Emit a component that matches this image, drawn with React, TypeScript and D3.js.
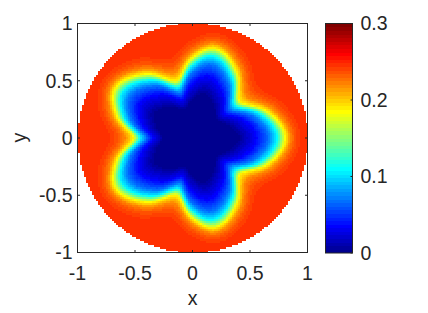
import React, { useMemo } from 'react';
import * as d3 from 'd3';

// ---- data ----
const xTicks = [-1, -0.5, 0, 0.5, 1];
const yTicks = [-1, -0.5, 0, 0.5, 1];
const cbTicks = [0, 0.1, 0.2, 0.3];
const colorLimits = [0, 0.3];

// contour values (field levels) and their radii at tips / flanks / notches of the star
const contourLevels = [0.004, 0.035, 0.07, 0.108, 0.185, 0.22, 0.237, 0.246];
const tipRadii = [0.4, 0.55, 0.66, 0.73, 0.8, 0.845, 0.89, 0.95];
const flankRadii = [0.33, 0.47, 0.565, 0.625, 0.69, 0.745, 0.8, 0.87];
const notchRadii = [0.26, 0.35, 0.41, 0.46, 0.515, 0.59, 0.66, 0.74];

// polar angles (deg) where the star outline was read, and what is there
const sampleAngles = [0, 19, 38, 57, 76, 91, 106, 126.5, 147, 163.5, 180, 196.5, 213, 233.5, 254, 269, 284, 303, 322, 341, 360];
const sampleKinds = ['tip', 'flank', 'notch', 'flank', 'tip', 'flank', 'notch', 'flank', 'tip', 'flank', 'notch', 'flank', 'tip', 'flank', 'notch', 'flank', 'tip', 'flank', 'notch', 'flank', 'tip'];

const gridCells = 115;

// ---- MATLAB jet colormap ----
function jet(m: number): number[][] {
  const n = Math.ceil(m / 4);
  const u: number[] = [];
  for (let i = 1; i <= n; i++) u.push(i / n);
  for (let i = 1; i < n; i++) u.push(1);
  for (let i = n; i >= 1; i--) u.push(i / n);
  const gOff = Math.ceil(n / 2) - (m % 4 === 1 ? 1 : 0);
  const J = Array.from({ length: m }, () => [0, 0, 0]);
  for (let k = 0; k < u.length; k++) {
    const g = gOff + k + 1;
    const r = g + n;
    const b = g - n;
    if (r >= 1 && r <= m) J[r - 1][0] = u[k];
    if (g >= 1 && g <= m) J[g - 1][1] = u[k];
    if (b >= 1 && b <= m) J[b - 1][2] = u[k];
  }
  return J;
}
const JET = jet(64).map(c => d3.rgb(c[0] * 255, c[1] * 255, c[2] * 255).formatHex());

function colorIndex(v: number) {
  const t = (v - colorLimits[0]) / (colorLimits[1] - colorLimits[0]);
  return Math.max(0, Math.min(63, Math.floor(t * 64)));
}

function radiiFor(kind: string) {
  return kind === 'tip' ? tipRadii : kind === 'notch' ? notchRadii : flankRadii;
}

// level radius at angle via cubic Hermite through the samples
function levelRadius(level: number, theta: number) {
  const n = sampleAngles.length - 1; // last equals first (periodic)
  let i = 0;
  while (i < n - 1 && theta >= sampleAngles[i + 1]) i++;
  const val = (k: number) => radiiFor(sampleKinds[((k % n) + n) % n])[level];
  const ang = (k: number) => {
    const kk = ((k % n) + n) % n;
    return sampleAngles[kk] + Math.floor(k / n) * 360;
  };
  const tangent = (k: number) => (val(k + 1) - val(k - 1)) / (ang(k + 1) - ang(k - 1));
  const h = sampleAngles[i + 1] - sampleAngles[i];
  const t = (theta - sampleAngles[i]) / h;
  const t2 = t * t, t3 = t2 * t;
  return (2 * t3 - 3 * t2 + 1) * val(i) + (t3 - 2 * t2 + t) * h * tangent(i) +
    (-2 * t3 + 3 * t2) * val(i + 1) + (t3 - t2) * h * tangent(i + 1);
}

function fieldValue(x: number, y: number) {
  const r = Math.hypot(x, y);
  let th = (Math.atan2(y, x) * 180) / Math.PI;
  if (th < 0) th += 360;
  const R = contourLevels.map((_, l) => levelRadius(l, th));
  if (r <= R[0]) return 0;
  for (let l = 0; l < R.length - 1; l++) {
    if (r <= R[l + 1]) {
      const f = (r - R[l]) / (R[l + 1] - R[l]);
      return contourLevels[l] + f * (contourLevels[l + 1] - contourLevels[l]);
    }
  }
  return contourLevels[contourLevels.length - 1];
}

const AX = '#262626';
const FONT = '"Liberation Sans", Arial, Helvetica, sans-serif';
const FS = 19.5;

export default function App() {
  const W = 428, H = 313;
  const xScale = d3.scaleLinear().domain([-1, 1]).range([77.5, 307.5]);
  const yScale = d3.scaleLinear().domain([-1, 1]).range([252.5, 23.5]);
  const cbScale = d3.scaleLinear().domain(colorLimits).range([253, 23.5]);
  const cbX0 = 325.5, cbX1 = 352.5;

  const cells = useMemo(() => {
    const out: { x: number; y: number; w: number; h: number; c: string }[] = [];
    const step = 2 / gridCells;
    for (let j = 0; j < gridCells; j++) {
      const yTop = 1 - j * step;
      const yc = yTop - step / 2;
      let runStart = -1, runColor = -1;
      const flush = (endI: number) => {
        if (runStart >= 0 && runColor >= 0) {
          const x0 = xScale(-1 + runStart * step);
          const x1 = xScale(-1 + endI * step);
          const y0 = yScale(yTop);
          const y1 = yScale(yTop - step);
          out.push({ x: x0, y: y0, w: x1 - x0 + 0.4, h: y1 - y0 + 0.4, c: JET[runColor] });
        }
      };
      for (let i = 0; i < gridCells; i++) {
        const xc = -1 + (i + 0.5) * step;
        let ci = -1;
        if (Math.hypot(xc, yc) <= 1) ci = colorIndex(fieldValue(xc, yc));
        if (ci !== runColor) {
          flush(i);
          runStart = i;
          runColor = ci;
        }
      }
      flush(gridCells);
    }
    return out;
  }, []);

  const cbBands = d3.range(64).map(k => ({
    y0: cbScale(colorLimits[0] + ((k + 1) / 64) * (colorLimits[1] - colorLimits[0])),
    y1: cbScale(colorLimits[0] + (k / 64) * (colorLimits[1] - colorLimits[0])),
    c: JET[k],
  }));

  const tl = 2.5;
  const capHalf = (FS * 0.716) / 2;

  return (
    <div style={{ position: 'absolute', left: 0, top: 0, width: W, height: H, background: '#fff' }}>
      <svg width={W} height={H} style={{ display: 'block' }} fontFamily={FONT}>
        <rect x={0} y={0} width={W} height={H} fill="#fff" />
        <g shapeRendering="crispEdges">
          {cells.map((d, k) => (
            <rect key={k} x={d.x} y={d.y} width={d.w} height={d.h} fill={d.c} />
          ))}
        </g>
        {/* axes box */}
        <rect x={xScale(-1)} y={yScale(1)} width={xScale(1) - xScale(-1)} height={yScale(-1) - yScale(1)}
          fill="none" stroke={AX} strokeWidth={1} />
        {xTicks.map(t => (
          <g key={'x' + t}>
            <line x1={xScale(t)} x2={xScale(t)} y1={yScale(-1)} y2={yScale(-1) - tl} stroke={AX} />
            <line x1={xScale(t)} x2={xScale(t)} y1={yScale(1)} y2={yScale(1) + tl} stroke={AX} />
            <text x={xScale(t)} y={280.3} textAnchor="middle" fontSize={FS} fill={AX}>{String(t)}</text>
          </g>
        ))}
        {yTicks.map(t => (
          <g key={'y' + t}>
            <line x1={xScale(-1)} x2={xScale(-1) + tl} y1={yScale(t)} y2={yScale(t)} stroke={AX} />
            <line x1={xScale(1)} x2={xScale(1) - tl} y1={yScale(t)} y2={yScale(t)} stroke={AX} />
            <text x={72.5} y={yScale(t) + capHalf} textAnchor="end" fontSize={FS} fill={AX}>{String(t)}</text>
          </g>
        ))}
        <text x={192.5} y={305} textAnchor="middle" fontSize={FS} fill={AX}>x</text>
        <text transform={`translate(26,137.5) rotate(-90)`} textAnchor="middle" fontSize={FS} fill={AX}>y</text>

        {/* colorbar */}
        <g shapeRendering="crispEdges">
          {cbBands.map((b, k) => (
            <rect key={k} x={cbX0} y={b.y0} width={cbX1 - cbX0} height={b.y1 - b.y0 + 0.4} fill={b.c} />
          ))}
        </g>
        <rect x={cbX0} y={cbScale(0.3)} width={cbX1 - cbX0} height={cbScale(0) - cbScale(0.3)}
          fill="none" stroke={AX} strokeWidth={1} />
        {cbTicks.map(t => (
          <g key={'c' + t}>
            <line x1={cbX1} x2={cbX1 - 2} y1={cbScale(t)} y2={cbScale(t)} stroke={AX} />
            <text x={360.5} y={cbScale(t) + capHalf} textAnchor="start" fontSize={FS} fill={AX}>{String(t)}</text>
          </g>
        ))}
      </svg>
    </div>
  );
}
